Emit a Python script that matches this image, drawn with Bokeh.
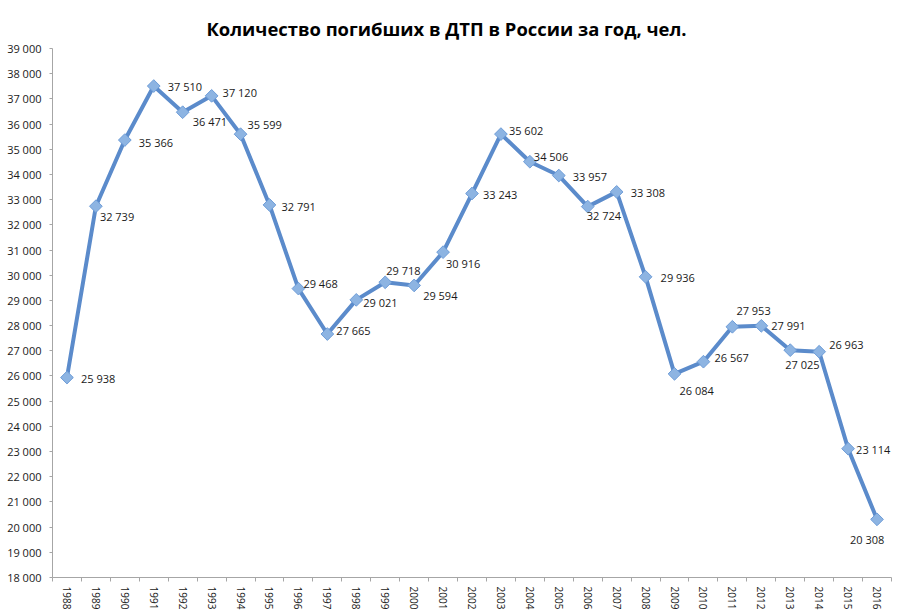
import numpy as np
from bokeh.plotting import figure
from bokeh.models import FixedTicker, Range1d, ColumnDataSource
from bokeh.core.properties import value
from bokeh.embed import file_html
from bokeh.resources import INLINE

# ---- data ----
years = [1988, 1989, 1990, 1991, 1992, 1993, 1994, 1995, 1996, 1997,
         1998, 1999, 2000, 2001, 2002, 2003, 2004, 2005, 2006, 2007,
         2008, 2009, 2010, 2011, 2012, 2013, 2014, 2015, 2016]
deaths = [25938, 32739, 35366, 37510, 36471, 37120, 35599, 32791, 29468, 27665,
          29021, 29718, 29594, 30916, 33243, 35602, 34506, 33957, 32724, 33308,
          29936, 26084, 26567, 27953, 27991, 27025, 26963, 23114, 20308]
y_ticks = [18000, 19000, 20000, 21000, 22000, 23000, 24000, 25000, 26000, 27000,
           28000, 29000, 30000, 31000, 32000, 33000, 34000, 35000, 36000, 37000,
           38000, 39000]
title_text = "Количество погибших в ДТП в России за год, чел."

# ---- label placement (screen px offsets, style only) ----
label_dx = [14, 4, 14, 14, 10, 11, 7, 12, 5, 9,
            7, 1, 9, 3, 11, 8, 4, 14, -1, 14,
            15, 5, 11, 4, 10, -5, 10, 8, -27]
label_dy = [1, 10, 2, 0, 9, -3, -10, 2, -5, -4,
            3, -12, 10, 11, 1, -4, -5, 1, 9, 1,
            1, 17, -4, -16, 0, 14, -7, 1, 20]


def fmt(v):
    return f"{v:,}".replace(",", " ")


idx = list(range(len(years)))
src = ColumnDataSource(dict(
    x=idx, y=deaths, label=[fmt(v) for v in deaths],
    dx=label_dx, dy=label_dy,
))

p = figure(frame_width=839, frame_height=529,
           x_range=Range1d(-0.5, len(years) - 0.5),
           y_range=Range1d(y_ticks[0], y_ticks[-1]),
           output_backend="svg", toolbar_location=None,
           min_border_left=52, min_border_right=9,
           min_border_top=48, min_border_bottom=38,
           background_fill_color="white", border_fill_color="white")
p.outline_line_color = None
p.grid.grid_line_color = None

# title
p.title.text = title_text
p.title.align = "left"
p.title.offset = 154
p.title.standoff = 12
p.title.vertical_align = "top"
p.title.text_font = "Open Sans"
p.title.text_font_style = "bold"
p.title.text_font_size = "18.4px"
p.title.text_color = "#000000"

axis_col = "#A6A6A6"
# x axis
p.xaxis.ticker = FixedTicker(ticks=idx, minor_ticks=[i - 0.5 for i in range(len(years) + 1)])
p.xaxis.major_label_overrides = {i: str(y) for i, y in enumerate(years)}
p.xaxis.major_label_orientation = "vertical"
p.xaxis.major_tick_out = 0
p.xaxis.major_tick_in = 0
p.xaxis.minor_tick_out = 4
p.xaxis.minor_tick_in = 0
p.xaxis.major_label_standoff = 5
p.xaxis.major_label_text_font = "Open Sans"
p.xaxis.major_label_text_font_size = "10px"
p.xaxis.major_label_text_color = "#1a1a1a"
p.xaxis.axis_line_color = axis_col
p.xaxis.minor_tick_line_color = axis_col

# y axis
p.yaxis.ticker = FixedTicker(ticks=y_ticks)
p.yaxis.major_label_overrides = {t: fmt(t) for t in y_ticks}
p.yaxis.major_tick_out = 3
p.yaxis.major_tick_in = 0
p.yaxis.minor_tick_line_color = None
p.yaxis.major_label_standoff = 8
p.yaxis.major_label_text_font = "Open Sans"
p.yaxis.major_label_text_font_size = "11px"
p.yaxis.major_label_text_color = "#1a1a1a"
p.yaxis.axis_line_color = axis_col
p.yaxis.major_tick_line_color = axis_col

# series
p.line("x", "y", source=src, line_width=4, line_color="#5B8BCB")
p.scatter("x", "y", source=src, marker="square", angle=np.pi / 4, size=9,
          fill_color="#8DB4E2", line_color="#6E9DD8", line_width=1)

p.text("x", "y", text="label", source=src, x_offset="dx", y_offset="dy",
       text_align="left", text_baseline="middle",
       text_font=value("Open Sans"), text_font_size="11px", text_color="#1a1a1a")

open("out.html", "w").write(file_html(p, INLINE))
